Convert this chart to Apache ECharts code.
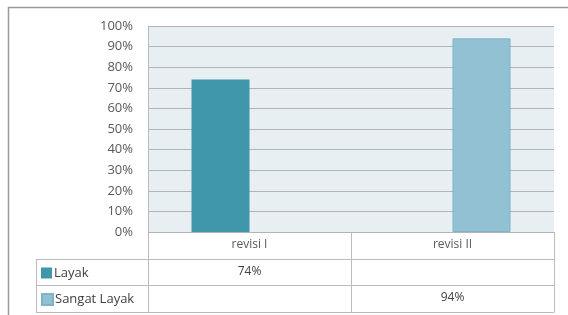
<!DOCTYPE html>
<html>
<head>
<meta charset="utf-8">
<script src="https://cdn.jsdelivr.net/npm/echarts@6/dist/echarts.min.js"></script>
<style>
  html, body { margin: 0; padding: 0; background: #fff; }
  #main { width: 568px; height: 315px; }
</style>
</head>
<body>
<div id="main"></div>
<script>
// data
var categories = ['revisi I', 'revisi II'];
var layak = [0.74, null];
var sangatLayak = [null, 0.94];
var seriesNames = ['Layak', 'Sangat Layak'];

function pct(v) {
    return v == null ? '' : Math.round(v * 100) + '%';
}

// layout of the plot and data table
var gl = 148, gr = 554, gt = 26, gb = 232;
var rowH = 26.5;
var tblLeft = 36;
var lineColor = '#bcbcbc';

var chart = echarts.init(document.getElementById('main'));

var tableLines = [];
// horizontal lines
for (var i = 1; i <= 3; i++) {
    var y = Math.round(gb + rowH * i) + 0.5;
    tableLines.push({
        type: 'line',
        shape: { x1: tblLeft, y1: y, x2: gr, y2: y },
        style: { stroke: lineColor, lineWidth: 1 }
    });
}
// vertical lines
var yEnd = Math.round(gb + rowH * 3) + 0.5;
[tblLeft, gl, (gl + gr) / 2, gr].forEach(function (x, k) {
    var xx = Math.round(x) + 0.5;
    tableLines.push({
        type: 'line',
        shape: { x1: xx, y1: k === 0 ? Math.round(gb + rowH) + 0.5 : gb, x2: xx, y2: yEnd },
        style: { stroke: lineColor, lineWidth: 1 }
    });
});
// outer frame
tableLines.push({
    type: 'polyline',
    shape: { points: [[8.5, 330], [8.5, 7.5], [580, 7.5]] },
    style: { stroke: '#9a9a9a', lineWidth: 1.5, fill: null }
});

// one legend per table row
var legends = seriesNames.map(function (name, k) {
    return {
        left: 39, top: gb + rowH * (k + 1) + 6,
        itemWidth: 11, itemHeight: 11,
        icon: 'rect',
        data: [name],
        padding: 2,
        textStyle: { fontSize: 13, color: '#404040', padding: [0, 0, 0, -3] },
        selectedMode: false
    };
});

var option = {
    animation: false,
    textStyle: { fontFamily: 'Open Sans, Noto Sans, sans-serif' },
    color: ['#4096ab', '#92c1d3'],
    grid: {
        left: gl, right: 568 - gr, top: gt, bottom: 315 - gb,
        show: true, backgroundColor: '#e7eff3', borderWidth: 0
    },
    legend: legends,
    xAxis: [
        {
            type: 'category',
            data: categories,
            axisLine: { show: false },
            axisTick: { show: false },
            axisLabel: { fontSize: 12, color: '#595959', margin: 7 }
        },
        {
            type: 'category',
            data: categories,
            position: 'bottom',
            offset: rowH,
            axisLine: { show: false },
            axisTick: { show: false },
            axisLabel: {
                fontSize: 12, color: '#404040', margin: 7,
                formatter: function (v, idx) { return pct(layak[idx]); }
            }
        },
        {
            type: 'category',
            data: categories,
            position: 'bottom',
            offset: rowH * 2,
            axisLine: { show: false },
            axisTick: { show: false },
            axisLabel: {
                fontSize: 12, color: '#404040', margin: 7,
                formatter: function (v, idx) { return pct(sangatLayak[idx]); }
            }
        }
    ],
    yAxis: {
        type: 'value',
        min: 0, max: 1, interval: 0.1,
        axisLine: { show: true, lineStyle: { color: '#bcbcbc' } },
        axisTick: { show: false },
        axisLabel: {
            fontSize: 13, color: '#595959', margin: 15,
            formatter: function (v) { return Math.round(v * 100) + '%'; }
        },
        splitLine: { lineStyle: { color: '#b4b4b4', width: 1 } }
    },
    series: [
        {
            name: seriesNames[0],
            type: 'bar',
            data: layak,
            barWidth: 58,
            barGap: '0%'
        },
        {
            name: seriesNames[1],
            type: 'bar',
            data: sangatLayak,
            barWidth: 58,
            barGap: '0%',
            itemStyle: { borderColor: '#7fb3c7', borderWidth: 1 }
        }
    ],
    graphic: tableLines
};

chart.setOption(option);
</script>
</body>
</html>
